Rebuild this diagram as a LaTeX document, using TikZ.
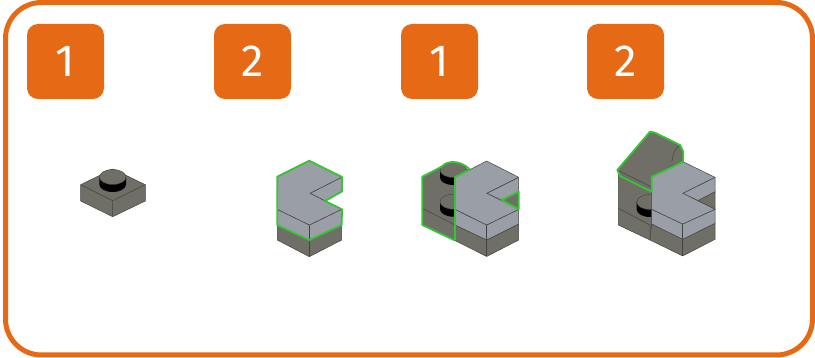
\documentclass[tikz,border=0pt]{standalone}
\usepackage{fontspec}
\setmainfont{Fira Sans}
\usepackage{tikz}
\usetikzlibrary{positioning}
\definecolor{stepOrange}{HTML}{E66A16}
\definecolor{brickDark}{HTML}{6F6F67}
\definecolor{brickLight}{HTML}{9A9EA6}
\definecolor{brickEdge}{HTML}{44443F}
\definecolor{newGreen}{HTML}{35C535}
\tikzset{
    stepbadge/.style={fill=stepOrange, rounded corners=11pt, minimum width=77pt, minimum height=75pt, inner sep=0pt, text=white, font=\fontsize{45}{45}\selectfont},
    darkface/.style={fill=brickDark, draw=brickEdge, line width=0.5pt, line join=round},
    lightface/.style={fill=brickLight, draw=brickEdge, line width=0.5pt, line join=round},
    newedge/.style={draw=newGreen, line width=1.8pt, line join=round}
}
\newcommand{\studpart}[3]{
    \fill[black] (#1-#3,#2) -- (#1-#3,#2+7.5) arc[start angle=180, end angle=0, x radius=#3, y radius=7.5] -- (#1+#3,#2) -- cycle;
    \draw[fill=brickDark, draw=brickEdge, line width=0.4pt] (#1,#2) ellipse[x radius=#3, y radius=7.5];
}
\begin{document}
\begin{tikzpicture}[x=1pt, y=-1pt]
    \useasboundingbox (0,0) rectangle (815,358);
    \draw[stepOrange, line width=5pt, rounded corners=36pt] (5.5,2.5) rectangle (812.5,355);

    \node[stepbadge] (badgea) at (65.5,61.5) {1};
    \node[stepbadge] (badgeb) at (252.5,61.5) {2};
    \node[stepbadge] (badgec) at (439.5,61.5) {1};
    \node[stepbadge] (badged) at (625.5,61.5) {2};

    \draw[darkface] (80.7,184.7) -- (112.7,169) -- (145.3,184.7) -- (145.3,201) -- (112.7,216.7) -- (80.7,201) -- cycle;
    \draw[brickEdge, line width=0.5pt] (80.7,184.7) -- (112.7,200.7) -- (145.3,184.7) (112.7,200.7) -- (112.7,216.7);
    \studpart{112.7}{177}{13.3}

    \draw[darkface] (277.3,225) -- (309.3,240) -- (341.7,225) -- (341.7,240) -- (309.3,256.7) -- (277.3,240) -- cycle;
    \draw[brickEdge, line width=0.5pt] (309.3,240) -- (309.3,256.7);
    \draw[lightface] (277.3,209.3) -- (309.3,225) -- (341.7,209.3) -- (341.7,225) -- (309.3,240) -- (277.3,225) -- cycle;
    \draw[brickEdge, line width=0.5pt] (309.3,225) -- (309.3,240);
    \draw[lightface] (342,177) -- (310,193.3) -- (325,201) -- (342,191.5) -- cycle;
    \draw[lightface] (277.3,176.7) -- (309.3,160.7) -- (342,177) -- (310,193.3) -- (341.7,209.3) -- (309.3,225) -- (277.3,209.3) -- cycle;
    \draw[newedge] (277.3,176.7) -- (309.3,160.7) -- (342,177) -- (342,191.5) -- (325,201) -- (342,209.3) -- (341.7,225) -- (309.3,240) -- (277.3,225) -- cycle;

    \draw[darkface] (422.3,176.7) -- (441.7,166.7) -- (470,169.3) -- (470,232) -- (455,240.5) -- (422.3,225) -- cycle;
    \draw[brickEdge, line width=0.5pt] (422.3,208.3) -- (455,225) -- (455,240.5);
    \studpart{453.3}{170}{13.3}
    \studpart{453.3}{201.7}{13.3}
    \draw[darkface] (455,225) -- (486.7,240) -- (518.7,224) -- (518.7,240) -- (486.7,256.5) -- (455,240.5) -- cycle;
    \draw[brickEdge, line width=0.5pt] (486.7,240) -- (486.7,256.5);
    \draw[lightface] (455,209.3) -- (486.7,225) -- (518.7,209.3) -- (518.7,224) -- (486.7,240) -- (455,225) -- cycle;
    \draw[brickEdge, line width=0.5pt] (486.7,225) -- (486.7,240);
    \draw[darkface] (501.7,200) -- (518.7,191.7) -- (518.7,209.3) -- cycle;
    \draw[lightface] (518.7,177.3) -- (486.7,193.3) -- (501.7,200) -- (518.7,191.7) -- cycle;
    \draw[lightface] (455,177.3) -- (486.7,161) -- (518.7,177.3) -- (486.7,193.3) -- (518.7,209.3) -- (486.7,225) -- (455,209.3) -- cycle;
    \draw[newedge] (455,240.5) -- (422.3,225) -- (422.3,176.7) -- (441.7,166.7) .. controls (447,160.5) and (459,159.5) .. (470,169.3);
    \draw[newedge] (470,169.3) -- (455,177.3) -- (455,240.5);
    \draw[newedge] (501.7,200) -- (518.7,191.7) -- (518.7,209.3) -- cycle;

    \draw[darkface] (618.3,172) -- (651.7,190) -- (651.7,239.5) -- (650,240) -- (618.3,225) -- cycle;
    \draw[brickEdge, line width=0.5pt] (618.3,208.3) -- (650,225) -- (650,240);
    \studpart{650}{202}{13.3}
    \draw[darkface] (651.7,224) -- (682.7,239.3) -- (715,223.3) -- (715,239.3) -- (682.7,256) -- (650,240) -- cycle;
    \draw[brickEdge, line width=0.5pt] (682.7,239.3) -- (682.7,256);
    \draw[lightface] (651.7,209.3) -- (682.7,224) -- (715,209.3) -- (715,223.3) -- (682.7,239.3) -- (651.7,224) -- cycle;
    \draw[brickEdge, line width=0.5pt] (682.7,224) -- (682.7,239.3);
    \draw[darkface] (698,200.5) -- (715,191.7) -- (715,209.3) -- cycle;
    \draw[lightface] (715,177.3) -- (682.7,193.3) -- (698,200.5) -- (715,191.7) -- cycle;
    \draw[lightface] (651.7,176.7) -- (683,161.7) -- (715,177.3) -- (682.7,193.3) -- (715,209.3) -- (682.7,224) -- (651.7,209.3) -- cycle;
    \draw[darkface] (617.3,170) -- (620,176) -- (651.7,191.7) -- (651.7,176.7) -- (671.7,166) -- (683.3,161.7) -- (683.3,151.7) -- (680,145) -- (655,132.7) -- (650,131.7) -- cycle;
    \draw[brickEdge, line width=0.5pt] (617.3,170) -- (651.7,187) (671.7,162) .. controls (674,150) and (676,148) .. (680,145);
    \draw[newedge] (683.3,161.7) -- (651.7,176.7) -- (651.7,191.7) -- (620,176) -- (617.3,170) -- (650,131.7) -- (655,132.7) -- (680,145) -- (683.3,151.7) -- cycle;
\end{tikzpicture}
\end{document}
